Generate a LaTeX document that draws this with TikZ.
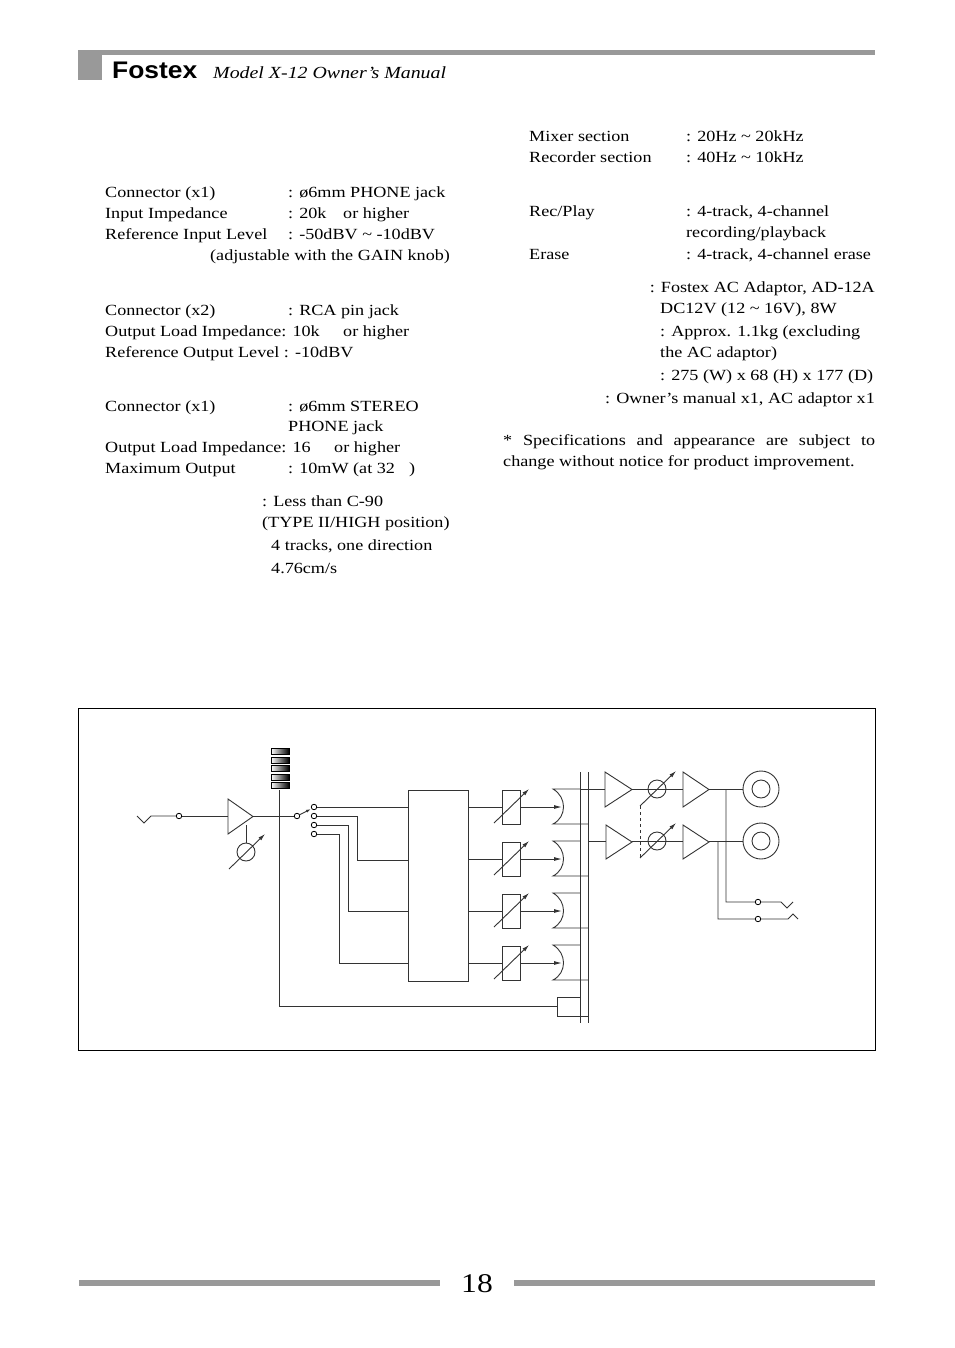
\documentclass[tikz,border=0pt]{standalone}
\usepackage{fontspec}
\setmainfont{Liberation Serif}[FakeStretch=1.17]
\newfontfamily\logofont{Liberation Sans}[FakeStretch=1.1]
\usetikzlibrary{arrows.meta}
\newcommand{\mytri}[4]{\draw[wire] (#1,#2)--(#1,#3)--(#4,{(#2+#3)/2})--cycle;}
\newcommand{\mypot}[2]{\draw[wire] (#1,#2) circle (9);\draw[wire,-{Latex[length=7,width=4]}] (#1-17,#2+17)--(#1+19,#2-18);}
\newcommand{\myfader}[1]{\draw[wire] (502,#1-17) rectangle (520,#1+17);
 \draw[wire,-{Latex[length=7,width=4]}] (494,#1+16)--(529,#1-18);
 \draw[wire] (468,#1)--(502,#1);
 \draw[wire,-{Latex[length=8,width=4]}] (520,#1)--(562,#1);
 \draw[wire] (580,#1-18)--(553,#1-18) .. controls (567,#1-10) and (567,#1+10) .. (553,#1+17)--(588,#1+17);}
\tikzset{txt/.style={anchor=base west,inner sep=0,font=\fontsize{15.5}{18}\selectfont},
 txtr/.style={anchor=base east,inner sep=0,font=\fontsize{15.5}{18}\selectfont},
 wire/.style={line width=0.9pt,black!80},
 dot/.style={circle,draw,fill=white,inner sep=0,minimum size=5.5pt,line width=0.8pt},
 bar/.style={fill=black!40,draw=none}}
\begin{document}
\begin{tikzpicture}[x=1pt,y=-1pt]
\useasboundingbox (0,0) rectangle (954,1348);
% header
\fill[bar] (78,50) rectangle (875,55);
\fill[bar] (78,50) rectangle (102,80);
\node[anchor=base west,inner sep=0,font=\logofont\bfseries\fontsize{24}{24}\selectfont] (logo) at (112,79) {Fostex};
\node[anchor=base west,inner sep=0,font=\itshape\fontsize{17}{20}\selectfont] (title) at (213,79) {Model X-12 Owner's Manual};
% footer
\fill[bar] (79,1280) rectangle (440,1286);
\fill[bar] (514,1280) rectangle (875,1286);
\node[anchor=base,inner sep=0,font=\fontsize{27}{30}\selectfont] (pg) at (477,1292) {18};
% left column
\node[txt] (t1) at (105,198) {Connector (x1)};
\node[txt] (t1b) at (288,198) {: ø6mm PHONE jack};
\node[txt] (t2) at (105,219) {Input Impedance};
\node[txt] (t2b) at (288,219) {: 20k};
\node[txt] (t2c) at (343,219) {or higher};
\node[txt] (t3) at (105,240) {Reference Input Level};
\node[txt] (t3b) at (288,240) {: -50dBV \textasciitilde{} -10dBV};
\node[txt] (t4) at (210,261) {(adjustable with the GAIN knob)};
\node[txt] (t5) at (105,315) {Connector (x2)};
\node[txt] (t5b) at (288,315) {: RCA pin jack};
\node[txt] (t6) at (105,336) {Output Load Impedance: 10k};
\node[txt] (t6c) at (343,336) {or higher};
\node[txt] (t7) at (105,357) {Reference Output Level : -10dBV};
\node[txt] (t8) at (105,411) {Connector (x1)};
\node[txt] (t8b) at (288,411) {: ø6mm STEREO};
\node[txt] (t9) at (288,431) {PHONE jack};
\node[txt] (t10) at (105,452) {Output Load Impedance: 16};
\node[txt] (t10c) at (334,452) {or higher};
\node[txt] (t11) at (105,473) {Maximum Output};
\node[txt] (t11b) at (288,473) {: 10mW (at 32};
\node[txt] (t11c) at (409,473) {)};
\node[txt] (t12) at (262,506) {: Less than C-90};
\node[txt] (t13) at (262,527) {(TYPE II/HIGH position)};
\node[txt] (t14) at (271,550) {4 tracks, one direction};
\node[txt] (t15) at (271,573) {4.76cm/s};
% right column
\node[txt] (r1) at (529,142) {Mixer section};
\node[txt] (r1b) at (686,142) {: 20Hz \textasciitilde{} 20kHz};
\node[txt] (r2) at (529,163) {Recorder section};
\node[txt] (r2b) at (686,163) {: 40Hz \textasciitilde{} 10kHz};
\node[txt] (r3) at (529,217) {Rec/Play};
\node[txt] (r3b) at (686,217) {: 4-track, 4-channel};
\node[txt] (r4) at (686,238) {recording/playback};
\node[txt] (r5) at (529,259) {Erase};
\node[txt] (r5b) at (686,259) {: 4-track, 4-channel erase};
\node[txtr] (r6) at (875,292) {: Fostex AC Adaptor, AD-12A};
\node[txt] (r7) at (660,313) {DC12V (12 \textasciitilde{} 16V), 8W};
\node[txt] (r8) at (660,336) {: Approx. 1.1kg (excluding};
\node[txt] (r9) at (660,357) {the AC adaptor)};
\node[txt] (r10) at (660,380) {: 275 (W) x 68 (H) x 177 (D)};
\node[txtr] (r11) at (875,403) {: Owner's manual x1, AC adaptor x1};
\node[txt] (r12) at (503,445) {\makebox[372pt][s]{* Specifications and appearance are subject to}};
\node[txt] (r13) at (503,466) {change without notice for product improvement.};
% frame
\draw[line width=0.8pt] (78,708) rectangle (875,1050);
% input
\draw[wire] (137,816)--(144,823)--(151,816)--(179,816);
\draw[wire] (179,816)--(228,816);
\node[dot] (in1) at (179,816) {};
\mytri{228}{799}{834}{253}
\draw[wire] (246,825)--(246,843);
\mypot{246}{852}
\draw[wire] (253,816)--(297,816);
% meter
\foreach \yy in {748,757,765,774,782}{\shade[left color=white,right color=black,draw=black] (271,\yy) rectangle (289,\yy+6);}
\draw[wire] (279,790)--(279,1006)--(557,1006);
% switch
\node[dot] (sw) at (297,816) {};
\draw[wire,-{Latex[length=5,width=3]}] (299,815)--(311,809);
\foreach \yy in {807,816,825,834}{\node[dot] at (314,\yy) {};}
\draw[wire] (317,807)--(408,807);
\draw[wire] (317,816)--(357,816)--(357,860)--(408,860);
\draw[wire] (317,825)--(348,825)--(348,911)--(408,911);
\draw[wire] (317,834)--(339,834)--(339,963)--(408,963);
% mixer box
\draw[wire] (408,790) rectangle (468,981);
\myfader{807}
\myfader{859}
\myfader{911}
\myfader{963}
% bus
\draw[wire] (580,772)--(580,1023);
\draw[wire] (588,772)--(588,1023);
\draw[wire] (557,997) rectangle (580,1016);
\draw[wire] (580,1016)--(588,1016);
% outputs
\draw[wire] (580,789)--(605,789);
\draw[wire] (588,841)--(606,841);
\mytri{605}{772}{807}{632}
\mytri{606}{825}{859}{632}
\draw[wire] (632,789)--(683,789);
\draw[wire] (632,841)--(683,841);
\mypot{657}{789}
\mypot{657}{841}
\draw[wire,dashed] (640,806)--(640,858);
\mytri{683}{772}{807}{709}
\mytri{683}{825}{859}{709}
\draw[wire] (709,789)--(743,789);
\draw[wire] (709,841)--(743,841);
\foreach \yy in {789,841}{\draw[wire] (761,\yy) circle (18); \draw[wire] (761,\yy) circle (9);}
\draw[wire] (726,789)--(726,902)--(781,902)--(787,908)--(793,902);
\draw[wire] (718,841)--(718,919)--(788,919)--(793,914)--(798,919);
\node[dot] (o1) at (758,902) {};
\node[dot] (o2) at (758,919) {};
\end{tikzpicture}
\end{document}
